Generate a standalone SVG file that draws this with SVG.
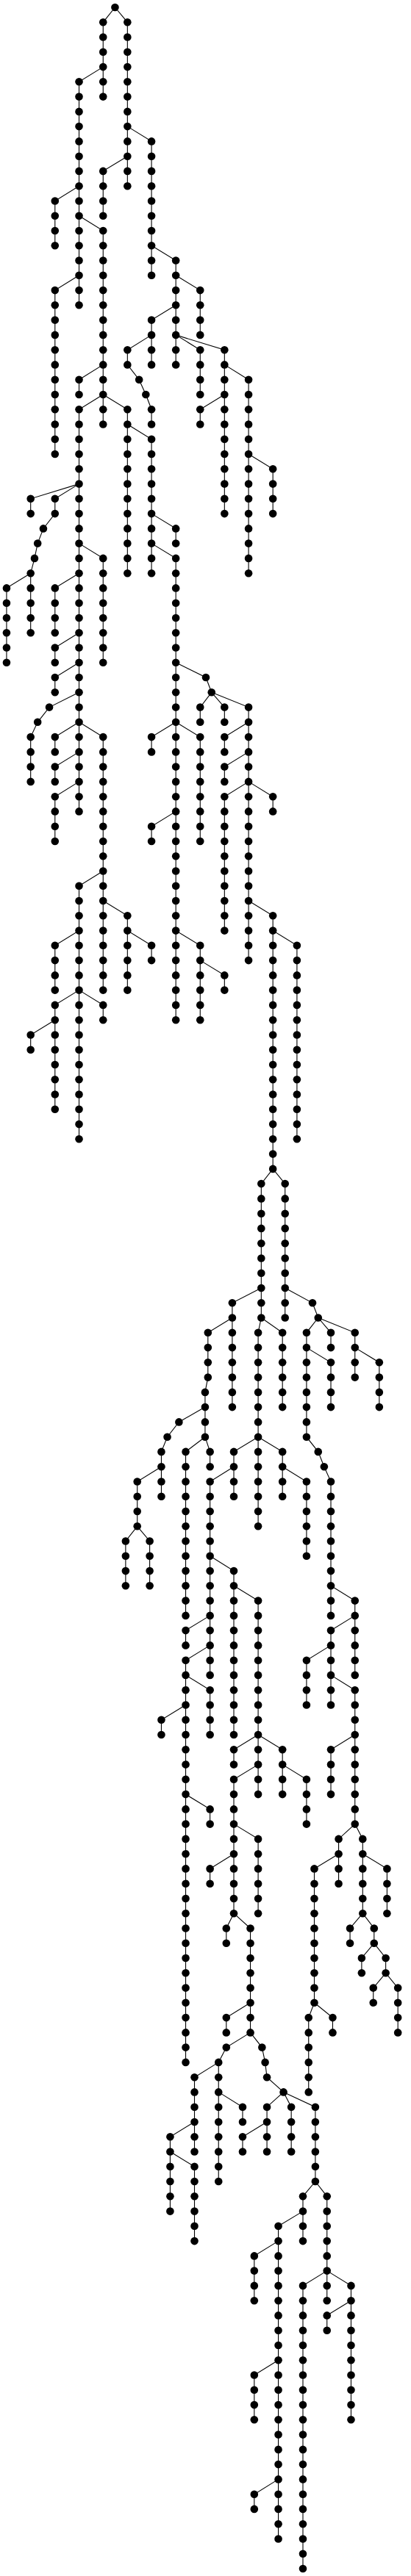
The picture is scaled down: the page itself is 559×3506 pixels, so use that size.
<svg xmlns="http://www.w3.org/2000/svg" width="559" height="3506" viewBox="0 0 559 3506">
<style>
.e path{fill:none;stroke:#000;stroke-width:1.1;vector-effect:non-scaling-stroke}
circle{r:5.3px;fill:#000;transform:scale(2.841,1)}
</style>
<rect width="559" height="3506" fill="#fff"/>
<g id="connectors" class="e" transform="translate(-0.9,0) scale(0.352,1)">
<path d="M447,10L401,30.3V131.6"/>
<path d="M447,10L495,30.3V253.2"/>
<path d="M401,91.1L308,111.3V415.3"/>
<path d="M308,253.2L215,273.5V334.3"/>
<path d="M495,212.7L401,232.9V293.7"/>
<path d="M495,172.1L588,192.4V374.8"/>
<path d="M308,293.7L401,314V577.5"/>
<path d="M308,374.8L215,395.1V618"/>
<path d="M401,496.4L308,516.7V537"/>
<path d="M401,537L308,557.2V1104.4"/>
<path d="M401,537L495,557.2V780.2"/>
<path d="M308,658.6L121,678.8V699.1"/>
<path d="M308,658.6L215,678.8V699.1L170,719.4L148,739.6L136,759.9L121,780.2V861.2"/>
<path d="M121,780.2L28,800.4V901.8"/>
<path d="M308,780.2L215,800.4V861.2"/>
<path d="M308,739.6L401,759.9V901.8"/>
<path d="M308,861.2L215,881.5V901.8"/>
<path d="M308,901.8L215,922V942.3"/>
<path d="M308,942.3L193,962.6L148,982.8L121,1003.1V1063.9"/>
<path d="M308,982.8L215,1003.1V1023.4"/>
<path d="M308,982.8L401,1003.1V1347.6"/>
<path d="M308,1023.4L215,1043.6V1063.9"/>
<path d="M308,1063.9L215,1084.2V1145"/>
<path d="M401,1185.5L308,1205.8V1550.3"/>
<path d="M308,1266.6L215,1286.8V1347.6"/>
<path d="M308,1347.6L215,1367.9V1509.8"/>
<path d="M215,1388.2L121,1408.5V1428.7"/>
<path d="M308,1347.6L401,1367.9V1388.2"/>
<path d="M401,1226L495,1246.3V1347.6"/>
<path d="M495,1266.6L588,1286.8V1307.1"/>
<path d="M588,334.3L682,354.5V496.4"/>
<path d="M682,374.8L776,395.1V455.9"/>
<path d="M682,415.3L588,435.6V496.4"/>
<path d="M588,455.9L495,476.2V496.4L540,516.7L566,537L588,557.2V577.5"/>
<path d="M682,455.9L776,476.2V537"/>
<path d="M682,455.9L870,476.2V699.1"/>
<path d="M870,537L776,557.2V577.5"/>
<path d="M870,496.4L963,516.7V780.2"/>
<path d="M963,618L1057,638.3V699.1"/>
<path d="M495,577.5L588,597.8V780.2"/>
<path d="M588,699.1L682,719.4V739.6"/>
<path d="M588,739.6L682,759.9V1388.2"/>
<path d="M682,901.8L798,922L820,942.3"/>
<path d="M820,942.3L776,962.6V982.8"/>
<path d="M820,942.3L870,962.6V982.8"/>
<path d="M820,942.3L963,962.6V1307.1"/>
<path d="M963,982.8L870,1003.1V1023.4"/>
<path d="M963,1023.4L870,1043.6V1063.9"/>
<path d="M963,1063.9L870,1084.2V1266.6"/>
<path d="M963,1063.9L1057,1084.2V1104.4"/>
<path d="M682,982.8L588,1003.1V1023.4"/>
<path d="M682,982.8L776,1003.1V1145"/>
<path d="M682,1104.4L588,1124.7V1145"/>
<path d="M682,1266.6L776,1286.8V1388.2"/>
<path d="M776,1307.1L870,1327.4V1347.6"/>
<path d="M963,1226L1057,1246.3V1590.9"/>
<path d="M1057,1266.6L1150,1286.8V1550.3"/>
<path d="M1057,1590.9L1012,1611.1V1793.5"/>
<path d="M1057,1590.9L1104,1611.1V1793.5"/>
<path d="M1012,1753L900,1773.3V1915.1"/>
<path d="M900,1793.5L806,1813.8V1874.6L795,1894.9V1955.7"/>
<path d="M795,1915.1L694,1935.4L649,1955.7L626,1975.9V2036.7"/>
<path d="M626,1996.2L533,2016.5V2077.3"/>
<path d="M533,2077.3L488,2097.5V2158.3"/>
<path d="M533,2077.3L581,2097.5V2158.3"/>
<path d="M795,1955.7L720,1975.9V2198.9"/>
<path d="M795,1955.7L814,1975.9V1996.2"/>
<path d="M1012,1793.5L1000,1813.8V2077.3"/>
<path d="M1012,1793.5L1094,1813.8V1915.1"/>
<path d="M1000,1955.7L906,1975.9V2036.7"/>
<path d="M906,1996.2L814,2016.5V2279.9"/>
<path d="M1000,1955.7L1094,1975.9V2036.7"/>
<path d="M1094,1996.2L1187,2016.5V2117.8"/>
<path d="M1104,1753L1210,1773.3L1232,1793.5"/>
<path d="M1232,1793.5L1187,1813.8V1955.7L1232,1975.9L1255,1996.2L1281,2016.5V2198.9"/>
<path d="M1232,1793.5L1281,1813.8V1834.1"/>
<path d="M1232,1793.5L1374,1813.8V1874.6"/>
<path d="M1374,1834.1L1468,1854.3V1915.1"/>
<path d="M1187,1834.1L1281,1854.3V1915.1"/>
<path d="M814,2117.8L906,2138.1V2361"/>
<path d="M906,2158.3L1000,2178.6V2442.1"/>
<path d="M814,2198.9L720,2219.1V2239.4"/>
<path d="M814,2239.4L720,2259.7V2806.9"/>
<path d="M720,2279.9L814,2300.2V2361"/>
<path d="M720,2320.5L626,2340.8V2361"/>
<path d="M720,2442.1L814,2462.4V2482.6"/>
<path d="M1000,2361L906,2381.3V2401.6"/>
<path d="M1000,2361L1094,2381.3V2442.1"/>
<path d="M1094,2401.6L1187,2421.8V2482.6"/>
<path d="M1000,2401.6L906,2421.8V2604.2"/>
<path d="M906,2482.6L1000,2502.9V2604.2"/>
<path d="M906,2523.2L814,2543.4V2563.7"/>
<path d="M906,2604.2L877,2624.5V2644.8"/>
<path d="M906,2604.2L970,2624.5V2766.4"/>
<path d="M970,2725.8L877,2746.1V2766.4"/>
<path d="M970,2766.4L877,2786.6L847,2806.9V2969"/>
<path d="M847,2806.9L754,2827.2V2928.5"/>
<path d="M847,2847.4L940,2867.7V2888"/>
<path d="M754,2888L660,2908.2V3009.6"/>
<path d="M660,2928.5L754,2948.8V3050.1"/>
<path d="M970,2766.4L1015,2786.6L1027,2806.9L1034,2827.2L1098,2847.4"/>
<path d="M1098,2847.4L1034,2867.7V2928.5"/>
<path d="M1034,2888L940,2908.2V2928.5"/>
<path d="M1098,2847.4L1128,2867.7V2928.5"/>
<path d="M1098,2847.4L1221,2867.7V2969"/>
<path d="M1221,2969L1173,2989.3V3050.1"/>
<path d="M1173,3009.6L1078,3029.8V3455.5"/>
<path d="M1078,3050.1L985,3070.4V3131.2"/>
<path d="M1078,3212.2L985,3232.5V3293.3"/>
<path d="M1078,3374.4L985,3394.7V3414.9"/>
<path d="M1221,2969L1266,2989.3V3131.2"/>
<path d="M1266,3090.6L1173,3110.9V3496"/>
<path d="M1266,3090.6L1359,3110.9V3293.3"/>
<path d="M1359,3131.2L1266,3151.4V3171.7"/>
<path d="M1281,2158.3L1374,2178.6V2279.9"/>
<path d="M1374,2198.9L1281,2219.1V2320.5"/>
<path d="M1281,2239.4L1187,2259.7V2320.5"/>
<path d="M1281,2279.9L1374,2300.2V2482.6"/>
<path d="M1374,2361L1281,2381.3V2442.1"/>
<path d="M1374,2482.6L1311,2502.9V2563.7"/>
<path d="M1311,2523.2L1217,2543.4V2725.8"/>
<path d="M1217,2725.8L1195,2746.1V2847.4"/>
<path d="M1217,2725.8L1288,2746.1V2766.4"/>
<path d="M1374,2482.6L1404,2502.9V2604.2"/>
<path d="M1404,2523.2L1498,2543.4V2604.2"/>
<path d="M1404,2604.2L1355,2624.5V2644.8"/>
<path d="M1404,2604.2L1448,2624.5V2644.8"/>
<path d="M1448,2644.8L1400,2665V2685.3"/>
<path d="M1448,2644.8L1493,2665V2685.3"/>
<path d="M1493,2685.3L1445,2705.6V2725.8"/>
<path d="M1493,2685.3L1540,2705.6V2766.4"/>
</g>
<g id="nodes" transform="translate(-0.9,0) scale(0.352,1)">
<g transform="translate(447,0)"><g id="n447_0"><circle cy="10"/></g></g>
<g transform="translate(401,0)">
<g id="n401_1"><circle cy="30.3"/></g><g id="n401_2"><circle cy="50.5"/></g><g id="n401_3"><circle cy="70.8"/></g><g id="n401_4"><circle cy="91.1"/></g><g id="n401_5"><circle cy="111.3"/></g><g id="n401_6"><circle cy="131.6"/></g>
<g id="n401_11"><circle cy="232.9"/></g><g id="n401_12"><circle cy="253.2"/></g><g id="n401_13"><circle cy="273.5"/></g><g id="n401_14"><circle cy="293.7"/></g><g id="n401_15"><circle cy="314"/></g><g id="n401_16"><circle cy="334.3"/></g><g id="n401_17"><circle cy="354.5"/></g><g id="n401_18"><circle cy="374.8"/></g><g id="n401_19"><circle cy="395.1"/></g><g id="n401_20"><circle cy="415.3"/></g><g id="n401_21"><circle cy="435.6"/></g><g id="n401_22"><circle cy="455.9"/></g><g id="n401_23"><circle cy="476.2"/></g><g id="n401_24"><circle cy="496.4"/></g><g id="n401_25"><circle cy="516.7"/></g><g id="n401_26"><circle cy="537"/></g><g id="n401_27"><circle cy="557.2"/></g><g id="n401_28"><circle cy="577.5"/></g>
<g id="n401_37"><circle cy="759.9"/></g><g id="n401_38"><circle cy="780.2"/></g><g id="n401_39"><circle cy="800.4"/></g><g id="n401_40"><circle cy="820.7"/></g><g id="n401_41"><circle cy="841"/></g><g id="n401_42"><circle cy="861.2"/></g><g id="n401_43"><circle cy="881.5"/></g><g id="n401_44"><circle cy="901.8"/></g>
<g id="n401_49"><circle cy="1003.1"/></g><g id="n401_50"><circle cy="1023.4"/></g><g id="n401_51"><circle cy="1043.6"/></g><g id="n401_52"><circle cy="1063.9"/></g><g id="n401_53"><circle cy="1084.2"/></g><g id="n401_54"><circle cy="1104.4"/></g><g id="n401_55"><circle cy="1124.7"/></g><g id="n401_56"><circle cy="1145"/></g><g id="n401_57"><circle cy="1165.2"/></g><g id="n401_58"><circle cy="1185.5"/></g><g id="n401_59"><circle cy="1205.8"/></g><g id="n401_60"><circle cy="1226"/></g><g id="n401_61"><circle cy="1246.3"/></g><g id="n401_62"><circle cy="1266.6"/></g><g id="n401_63"><circle cy="1286.8"/></g><g id="n401_64"><circle cy="1307.1"/></g><g id="n401_65"><circle cy="1327.4"/></g><g id="n401_66"><circle cy="1347.6"/></g><g id="n401_67"><circle cy="1367.9"/></g><g id="n401_68"><circle cy="1388.2"/></g>
</g>
<g transform="translate(495,0)">
<g id="n495_1"><circle cy="30.3"/></g><g id="n495_2"><circle cy="50.5"/></g><g id="n495_3"><circle cy="70.8"/></g><g id="n495_4"><circle cy="91.1"/></g><g id="n495_5"><circle cy="111.3"/></g><g id="n495_6"><circle cy="131.6"/></g><g id="n495_7"><circle cy="151.9"/></g><g id="n495_8"><circle cy="172.1"/></g><g id="n495_9"><circle cy="192.4"/></g><g id="n495_10"><circle cy="212.7"/></g><g id="n495_11"><circle cy="232.9"/></g><g id="n495_12"><circle cy="253.2"/></g>
<g id="n495_23"><circle cy="476.2"/></g><g id="n495_24"><circle cy="496.4"/></g>
<g id="n495_27"><circle cy="557.2"/></g><g id="n495_28"><circle cy="577.5"/></g><g id="n495_29"><circle cy="597.8"/></g><g id="n495_30"><circle cy="618"/></g><g id="n495_31"><circle cy="638.3"/></g><g id="n495_32"><circle cy="658.6"/></g><g id="n495_33"><circle cy="678.8"/></g><g id="n495_34"><circle cy="699.1"/></g><g id="n495_35"><circle cy="719.4"/></g><g id="n495_36"><circle cy="739.6"/></g><g id="n495_37"><circle cy="759.9"/></g><g id="n495_38"><circle cy="780.2"/></g>
<g id="n495_61"><circle cy="1246.3"/></g><g id="n495_62"><circle cy="1266.6"/></g><g id="n495_63"><circle cy="1286.8"/></g><g id="n495_64"><circle cy="1307.1"/></g><g id="n495_65"><circle cy="1327.4"/></g><g id="n495_66"><circle cy="1347.6"/></g>
</g>
<g transform="translate(308,0)">
<g id="n308_5"><circle cy="111.3"/></g><g id="n308_6"><circle cy="131.6"/></g><g id="n308_7"><circle cy="151.9"/></g><g id="n308_8"><circle cy="172.1"/></g><g id="n308_9"><circle cy="192.4"/></g><g id="n308_10"><circle cy="212.7"/></g><g id="n308_11"><circle cy="232.9"/></g><g id="n308_12"><circle cy="253.2"/></g><g id="n308_13"><circle cy="273.5"/></g><g id="n308_14"><circle cy="293.7"/></g><g id="n308_15"><circle cy="314"/></g><g id="n308_16"><circle cy="334.3"/></g><g id="n308_17"><circle cy="354.5"/></g><g id="n308_18"><circle cy="374.8"/></g><g id="n308_19"><circle cy="395.1"/></g><g id="n308_20"><circle cy="415.3"/></g>
<g id="n308_25"><circle cy="516.7"/></g><g id="n308_26"><circle cy="537"/></g><g id="n308_27"><circle cy="557.2"/></g><g id="n308_28"><circle cy="577.5"/></g><g id="n308_29"><circle cy="597.8"/></g><g id="n308_30"><circle cy="618"/></g><g id="n308_31"><circle cy="638.3"/></g><g id="n308_32"><circle cy="658.6"/></g><g id="n308_33"><circle cy="678.8"/></g><g id="n308_34"><circle cy="699.1"/></g><g id="n308_35"><circle cy="719.4"/></g><g id="n308_36"><circle cy="739.6"/></g><g id="n308_37"><circle cy="759.9"/></g><g id="n308_38"><circle cy="780.2"/></g><g id="n308_39"><circle cy="800.4"/></g><g id="n308_40"><circle cy="820.7"/></g><g id="n308_41"><circle cy="841"/></g><g id="n308_42"><circle cy="861.2"/></g><g id="n308_43"><circle cy="881.5"/></g><g id="n308_44"><circle cy="901.8"/></g><g id="n308_45"><circle cy="922"/></g><g id="n308_46"><circle cy="942.3"/></g><g id="n308_47"><circle cy="962.6"/></g><g id="n308_48"><circle cy="982.8"/></g><g id="n308_49"><circle cy="1003.1"/></g><g id="n308_50"><circle cy="1023.4"/></g><g id="n308_51"><circle cy="1043.6"/></g><g id="n308_52"><circle cy="1063.9"/></g><g id="n308_53"><circle cy="1084.2"/></g><g id="n308_54"><circle cy="1104.4"/></g>
<g id="n308_59"><circle cy="1205.8"/></g><g id="n308_60"><circle cy="1226"/></g><g id="n308_61"><circle cy="1246.3"/></g><g id="n308_62"><circle cy="1266.6"/></g><g id="n308_63"><circle cy="1286.8"/></g><g id="n308_64"><circle cy="1307.1"/></g><g id="n308_65"><circle cy="1327.4"/></g><g id="n308_66"><circle cy="1347.6"/></g><g id="n308_67"><circle cy="1367.9"/></g><g id="n308_68"><circle cy="1388.2"/></g><g id="n308_69"><circle cy="1408.5"/></g><g id="n308_70"><circle cy="1428.7"/></g><g id="n308_71"><circle cy="1449"/></g><g id="n308_72"><circle cy="1469.3"/></g><g id="n308_73"><circle cy="1489.5"/></g><g id="n308_74"><circle cy="1509.8"/></g><g id="n308_75"><circle cy="1530.1"/></g><g id="n308_76"><circle cy="1550.3"/></g>
</g>
<g transform="translate(215,0)">
<g id="n215_13"><circle cy="273.5"/></g><g id="n215_14"><circle cy="293.7"/></g><g id="n215_15"><circle cy="314"/></g><g id="n215_16"><circle cy="334.3"/></g>
<g id="n215_19"><circle cy="395.1"/></g><g id="n215_20"><circle cy="415.3"/></g><g id="n215_21"><circle cy="435.6"/></g><g id="n215_22"><circle cy="455.9"/></g><g id="n215_23"><circle cy="476.2"/></g><g id="n215_24"><circle cy="496.4"/></g><g id="n215_25"><circle cy="516.7"/></g><g id="n215_26"><circle cy="537"/></g><g id="n215_27"><circle cy="557.2"/></g><g id="n215_28"><circle cy="577.5"/></g><g id="n215_29"><circle cy="597.8"/></g><g id="n215_30"><circle cy="618"/></g>
<g id="n215_33"><circle cy="678.8"/></g><g id="n215_34"><circle cy="699.1"/></g>
<g id="n215_39"><circle cy="800.4"/></g><g id="n215_40"><circle cy="820.7"/></g><g id="n215_41"><circle cy="841"/></g><g id="n215_42"><circle cy="861.2"/></g><g id="n215_43"><circle cy="881.5"/></g><g id="n215_44"><circle cy="901.8"/></g><g id="n215_45"><circle cy="922"/></g><g id="n215_46"><circle cy="942.3"/></g>
<g id="n215_49"><circle cy="1003.1"/></g><g id="n215_50"><circle cy="1023.4"/></g><g id="n215_51"><circle cy="1043.6"/></g><g id="n215_52"><circle cy="1063.9"/></g><g id="n215_53"><circle cy="1084.2"/></g><g id="n215_54"><circle cy="1104.4"/></g><g id="n215_55"><circle cy="1124.7"/></g><g id="n215_56"><circle cy="1145"/></g>
<g id="n215_63"><circle cy="1286.8"/></g><g id="n215_64"><circle cy="1307.1"/></g><g id="n215_65"><circle cy="1327.4"/></g><g id="n215_66"><circle cy="1347.6"/></g><g id="n215_67"><circle cy="1367.9"/></g><g id="n215_68"><circle cy="1388.2"/></g><g id="n215_69"><circle cy="1408.5"/></g><g id="n215_70"><circle cy="1428.7"/></g><g id="n215_71"><circle cy="1449"/></g><g id="n215_72"><circle cy="1469.3"/></g><g id="n215_73"><circle cy="1489.5"/></g><g id="n215_74"><circle cy="1509.8"/></g>
</g>
<g transform="translate(121,0)">
<g id="n121_33"><circle cy="678.8"/></g><g id="n121_34"><circle cy="699.1"/></g>
<g id="n121_38"><circle cy="780.2"/></g><g id="n121_39"><circle cy="800.4"/></g><g id="n121_40"><circle cy="820.7"/></g><g id="n121_41"><circle cy="841"/></g><g id="n121_42"><circle cy="861.2"/></g>
<g id="n121_49"><circle cy="1003.1"/></g><g id="n121_50"><circle cy="1023.4"/></g><g id="n121_51"><circle cy="1043.6"/></g><g id="n121_52"><circle cy="1063.9"/></g>
<g id="n121_69"><circle cy="1408.5"/></g><g id="n121_70"><circle cy="1428.7"/></g>
</g>
<g transform="translate(28,0)">
<g id="n28_39"><circle cy="800.4"/></g><g id="n28_40"><circle cy="820.7"/></g><g id="n28_41"><circle cy="841"/></g><g id="n28_42"><circle cy="861.2"/></g><g id="n28_43"><circle cy="881.5"/></g><g id="n28_44"><circle cy="901.8"/></g>
</g>
<g transform="translate(170,0)"><g id="n170_35"><circle cy="719.4"/></g></g>
<g transform="translate(148,0)"><g id="n148_36"><circle cy="739.6"/></g><g id="n148_48"><circle cy="982.8"/></g></g>
<g transform="translate(136,0)"><g id="n136_37"><circle cy="759.9"/></g></g>
<g transform="translate(193,0)"><g id="n193_47"><circle cy="962.6"/></g></g>
<g transform="translate(588,0)">
<g id="n588_9"><circle cy="192.4"/></g><g id="n588_10"><circle cy="212.7"/></g><g id="n588_11"><circle cy="232.9"/></g><g id="n588_12"><circle cy="253.2"/></g><g id="n588_13"><circle cy="273.5"/></g><g id="n588_14"><circle cy="293.7"/></g><g id="n588_15"><circle cy="314"/></g><g id="n588_16"><circle cy="334.3"/></g><g id="n588_17"><circle cy="354.5"/></g><g id="n588_18"><circle cy="374.8"/></g>
<g id="n588_21"><circle cy="435.6"/></g><g id="n588_22"><circle cy="455.9"/></g><g id="n588_23"><circle cy="476.2"/></g><g id="n588_24"><circle cy="496.4"/></g>
<g id="n588_27"><circle cy="557.2"/></g><g id="n588_28"><circle cy="577.5"/></g><g id="n588_29"><circle cy="597.8"/></g><g id="n588_30"><circle cy="618"/></g><g id="n588_31"><circle cy="638.3"/></g><g id="n588_32"><circle cy="658.6"/></g><g id="n588_33"><circle cy="678.8"/></g><g id="n588_34"><circle cy="699.1"/></g><g id="n588_35"><circle cy="719.4"/></g><g id="n588_36"><circle cy="739.6"/></g><g id="n588_37"><circle cy="759.9"/></g><g id="n588_38"><circle cy="780.2"/></g>
<g id="n588_49"><circle cy="1003.1"/></g><g id="n588_50"><circle cy="1023.4"/></g><g id="n588_55"><circle cy="1124.7"/></g><g id="n588_56"><circle cy="1145"/></g><g id="n588_63"><circle cy="1286.8"/></g><g id="n588_64"><circle cy="1307.1"/></g>
</g>
<g transform="translate(540,0)"><g id="n540_25"><circle cy="516.7"/></g></g>
<g transform="translate(566,0)"><g id="n566_26"><circle cy="537"/></g></g>
<g transform="translate(682,0)">
<g id="n682_17"><circle cy="354.5"/></g><g id="n682_18"><circle cy="374.8"/></g><g id="n682_19"><circle cy="395.1"/></g><g id="n682_20"><circle cy="415.3"/></g><g id="n682_21"><circle cy="435.6"/></g><g id="n682_22"><circle cy="455.9"/></g><g id="n682_23"><circle cy="476.2"/></g><g id="n682_24"><circle cy="496.4"/></g>
<g id="n682_35"><circle cy="719.4"/></g><g id="n682_36"><circle cy="739.6"/></g><g id="n682_37"><circle cy="759.9"/></g><g id="n682_38"><circle cy="780.2"/></g><g id="n682_39"><circle cy="800.4"/></g><g id="n682_40"><circle cy="820.7"/></g><g id="n682_41"><circle cy="841"/></g><g id="n682_42"><circle cy="861.2"/></g><g id="n682_43"><circle cy="881.5"/></g><g id="n682_44"><circle cy="901.8"/></g><g id="n682_45"><circle cy="922"/></g><g id="n682_46"><circle cy="942.3"/></g><g id="n682_47"><circle cy="962.6"/></g><g id="n682_48"><circle cy="982.8"/></g><g id="n682_49"><circle cy="1003.1"/></g><g id="n682_50"><circle cy="1023.4"/></g><g id="n682_51"><circle cy="1043.6"/></g><g id="n682_52"><circle cy="1063.9"/></g><g id="n682_53"><circle cy="1084.2"/></g><g id="n682_54"><circle cy="1104.4"/></g><g id="n682_55"><circle cy="1124.7"/></g><g id="n682_56"><circle cy="1145"/></g><g id="n682_57"><circle cy="1165.2"/></g><g id="n682_58"><circle cy="1185.5"/></g><g id="n682_59"><circle cy="1205.8"/></g><g id="n682_60"><circle cy="1226"/></g><g id="n682_61"><circle cy="1246.3"/></g><g id="n682_62"><circle cy="1266.6"/></g><g id="n682_63"><circle cy="1286.8"/></g><g id="n682_64"><circle cy="1307.1"/></g><g id="n682_65"><circle cy="1327.4"/></g><g id="n682_66"><circle cy="1347.6"/></g><g id="n682_67"><circle cy="1367.9"/></g><g id="n682_68"><circle cy="1388.2"/></g>
</g>
<g transform="translate(776,0)">
<g id="n776_19"><circle cy="395.1"/></g><g id="n776_20"><circle cy="415.3"/></g><g id="n776_21"><circle cy="435.6"/></g><g id="n776_22"><circle cy="455.9"/></g><g id="n776_23"><circle cy="476.2"/></g><g id="n776_24"><circle cy="496.4"/></g><g id="n776_25"><circle cy="516.7"/></g><g id="n776_26"><circle cy="537"/></g><g id="n776_27"><circle cy="557.2"/></g><g id="n776_28"><circle cy="577.5"/></g>
<g id="n776_47"><circle cy="962.6"/></g><g id="n776_48"><circle cy="982.8"/></g><g id="n776_49"><circle cy="1003.1"/></g><g id="n776_50"><circle cy="1023.4"/></g><g id="n776_51"><circle cy="1043.6"/></g><g id="n776_52"><circle cy="1063.9"/></g><g id="n776_53"><circle cy="1084.2"/></g><g id="n776_54"><circle cy="1104.4"/></g><g id="n776_55"><circle cy="1124.7"/></g><g id="n776_56"><circle cy="1145"/></g>
<g id="n776_63"><circle cy="1286.8"/></g><g id="n776_64"><circle cy="1307.1"/></g><g id="n776_65"><circle cy="1327.4"/></g><g id="n776_66"><circle cy="1347.6"/></g><g id="n776_67"><circle cy="1367.9"/></g><g id="n776_68"><circle cy="1388.2"/></g>
</g>
<g transform="translate(870,0)">
<g id="n870_23"><circle cy="476.2"/></g><g id="n870_24"><circle cy="496.4"/></g><g id="n870_25"><circle cy="516.7"/></g><g id="n870_26"><circle cy="537"/></g><g id="n870_27"><circle cy="557.2"/></g><g id="n870_28"><circle cy="577.5"/></g><g id="n870_29"><circle cy="597.8"/></g><g id="n870_30"><circle cy="618"/></g><g id="n870_31"><circle cy="638.3"/></g><g id="n870_32"><circle cy="658.6"/></g><g id="n870_33"><circle cy="678.8"/></g><g id="n870_34"><circle cy="699.1"/></g>
<g id="n870_47"><circle cy="962.6"/></g><g id="n870_48"><circle cy="982.8"/></g><g id="n870_49"><circle cy="1003.1"/></g><g id="n870_50"><circle cy="1023.4"/></g><g id="n870_51"><circle cy="1043.6"/></g><g id="n870_52"><circle cy="1063.9"/></g><g id="n870_53"><circle cy="1084.2"/></g><g id="n870_54"><circle cy="1104.4"/></g><g id="n870_55"><circle cy="1124.7"/></g><g id="n870_56"><circle cy="1145"/></g><g id="n870_57"><circle cy="1165.2"/></g><g id="n870_58"><circle cy="1185.5"/></g><g id="n870_59"><circle cy="1205.8"/></g><g id="n870_60"><circle cy="1226"/></g><g id="n870_61"><circle cy="1246.3"/></g><g id="n870_62"><circle cy="1266.6"/></g>
<g id="n870_65"><circle cy="1327.4"/></g><g id="n870_66"><circle cy="1347.6"/></g>
</g>
<g transform="translate(963,0)">
<g id="n963_25"><circle cy="516.7"/></g><g id="n963_26"><circle cy="537"/></g><g id="n963_27"><circle cy="557.2"/></g><g id="n963_28"><circle cy="577.5"/></g><g id="n963_29"><circle cy="597.8"/></g><g id="n963_30"><circle cy="618"/></g><g id="n963_31"><circle cy="638.3"/></g><g id="n963_32"><circle cy="658.6"/></g><g id="n963_33"><circle cy="678.8"/></g><g id="n963_34"><circle cy="699.1"/></g><g id="n963_35"><circle cy="719.4"/></g><g id="n963_36"><circle cy="739.6"/></g><g id="n963_37"><circle cy="759.9"/></g><g id="n963_38"><circle cy="780.2"/></g>
<g id="n963_47"><circle cy="962.6"/></g><g id="n963_48"><circle cy="982.8"/></g><g id="n963_49"><circle cy="1003.1"/></g><g id="n963_50"><circle cy="1023.4"/></g><g id="n963_51"><circle cy="1043.6"/></g><g id="n963_52"><circle cy="1063.9"/></g><g id="n963_53"><circle cy="1084.2"/></g><g id="n963_54"><circle cy="1104.4"/></g><g id="n963_55"><circle cy="1124.7"/></g><g id="n963_56"><circle cy="1145"/></g><g id="n963_57"><circle cy="1165.2"/></g><g id="n963_58"><circle cy="1185.5"/></g><g id="n963_59"><circle cy="1205.8"/></g><g id="n963_60"><circle cy="1226"/></g><g id="n963_61"><circle cy="1246.3"/></g><g id="n963_62"><circle cy="1266.6"/></g><g id="n963_63"><circle cy="1286.8"/></g><g id="n963_64"><circle cy="1307.1"/></g>
</g>
<g transform="translate(1057,0)">
<g id="n1057_31"><circle cy="638.3"/></g><g id="n1057_32"><circle cy="658.6"/></g><g id="n1057_33"><circle cy="678.8"/></g><g id="n1057_34"><circle cy="699.1"/></g>
<g id="n1057_53"><circle cy="1084.2"/></g><g id="n1057_54"><circle cy="1104.4"/></g>
<g id="n1057_61"><circle cy="1246.3"/></g><g id="n1057_62"><circle cy="1266.6"/></g><g id="n1057_63"><circle cy="1286.8"/></g><g id="n1057_64"><circle cy="1307.1"/></g><g id="n1057_65"><circle cy="1327.4"/></g><g id="n1057_66"><circle cy="1347.6"/></g><g id="n1057_67"><circle cy="1367.9"/></g><g id="n1057_68"><circle cy="1388.2"/></g><g id="n1057_69"><circle cy="1408.5"/></g><g id="n1057_70"><circle cy="1428.7"/></g><g id="n1057_71"><circle cy="1449"/></g><g id="n1057_72"><circle cy="1469.3"/></g><g id="n1057_73"><circle cy="1489.5"/></g><g id="n1057_74"><circle cy="1509.8"/></g><g id="n1057_75"><circle cy="1530.1"/></g><g id="n1057_76"><circle cy="1550.3"/></g><g id="n1057_77"><circle cy="1570.6"/></g><g id="n1057_78"><circle cy="1590.9"/></g>
</g>
<g transform="translate(1150,0)">
<g id="n1150_63"><circle cy="1286.8"/></g><g id="n1150_64"><circle cy="1307.1"/></g><g id="n1150_65"><circle cy="1327.4"/></g><g id="n1150_66"><circle cy="1347.6"/></g><g id="n1150_67"><circle cy="1367.9"/></g><g id="n1150_68"><circle cy="1388.2"/></g><g id="n1150_69"><circle cy="1408.5"/></g><g id="n1150_70"><circle cy="1428.7"/></g><g id="n1150_71"><circle cy="1449"/></g><g id="n1150_72"><circle cy="1469.3"/></g><g id="n1150_73"><circle cy="1489.5"/></g><g id="n1150_74"><circle cy="1509.8"/></g><g id="n1150_75"><circle cy="1530.1"/></g><g id="n1150_76"><circle cy="1550.3"/></g>
</g>
<g transform="translate(798,0)"><g id="n798_45"><circle cy="922"/></g></g>
<g transform="translate(820,0)"><g id="n820_46"><circle cy="942.3"/></g></g>
<g transform="translate(1012,0)">
<g id="n1012_79"><circle cy="1611.1"/></g><g id="n1012_80"><circle cy="1631.4"/></g><g id="n1012_81"><circle cy="1651.7"/></g><g id="n1012_82"><circle cy="1671.9"/></g><g id="n1012_83"><circle cy="1692.2"/></g><g id="n1012_84"><circle cy="1712.5"/></g><g id="n1012_85"><circle cy="1732.7"/></g><g id="n1012_86"><circle cy="1753"/></g><g id="n1012_87"><circle cy="1773.3"/></g><g id="n1012_88"><circle cy="1793.5"/></g>
</g>
<g transform="translate(1104,0)">
<g id="n1104_79"><circle cy="1611.1"/></g><g id="n1104_80"><circle cy="1631.4"/></g><g id="n1104_81"><circle cy="1651.7"/></g><g id="n1104_82"><circle cy="1671.9"/></g><g id="n1104_83"><circle cy="1692.2"/></g><g id="n1104_84"><circle cy="1712.5"/></g><g id="n1104_85"><circle cy="1732.7"/></g><g id="n1104_86"><circle cy="1753"/></g><g id="n1104_87"><circle cy="1773.3"/></g><g id="n1104_88"><circle cy="1793.5"/></g>
</g>
<g transform="translate(900,0)">
<g id="n900_87"><circle cy="1773.3"/></g><g id="n900_88"><circle cy="1793.5"/></g><g id="n900_89"><circle cy="1813.8"/></g><g id="n900_90"><circle cy="1834.1"/></g><g id="n900_91"><circle cy="1854.3"/></g><g id="n900_92"><circle cy="1874.6"/></g><g id="n900_93"><circle cy="1894.9"/></g><g id="n900_94"><circle cy="1915.1"/></g>
</g>
<g transform="translate(806,0)">
<g id="n806_89"><circle cy="1813.8"/></g><g id="n806_90"><circle cy="1834.1"/></g><g id="n806_91"><circle cy="1854.3"/></g><g id="n806_92"><circle cy="1874.6"/></g>
</g>
<g transform="translate(795,0)">
<g id="n795_93"><circle cy="1894.9"/></g><g id="n795_94"><circle cy="1915.1"/></g><g id="n795_95"><circle cy="1935.4"/></g><g id="n795_96"><circle cy="1955.7"/></g>
</g>
<g transform="translate(694,0)"><g id="n694_95"><circle cy="1935.4"/></g></g>
<g transform="translate(649,0)"><g id="n649_96"><circle cy="1955.7"/></g></g>
<g transform="translate(626,0)">
<g id="n626_97"><circle cy="1975.9"/></g><g id="n626_98"><circle cy="1996.2"/></g><g id="n626_99"><circle cy="2016.5"/></g><g id="n626_100"><circle cy="2036.7"/></g>
<g id="n626_115"><circle cy="2340.8"/></g><g id="n626_116"><circle cy="2361"/></g>
</g>
<g transform="translate(533,0)">
<g id="n533_99"><circle cy="2016.5"/></g><g id="n533_100"><circle cy="2036.7"/></g><g id="n533_101"><circle cy="2057"/></g><g id="n533_102"><circle cy="2077.3"/></g>
</g>
<g transform="translate(488,0)">
<g id="n488_103"><circle cy="2097.5"/></g><g id="n488_104"><circle cy="2117.8"/></g><g id="n488_105"><circle cy="2138.1"/></g><g id="n488_106"><circle cy="2158.3"/></g>
</g>
<g transform="translate(581,0)">
<g id="n581_103"><circle cy="2097.5"/></g><g id="n581_104"><circle cy="2117.8"/></g><g id="n581_105"><circle cy="2138.1"/></g><g id="n581_106"><circle cy="2158.3"/></g>
</g>
<g transform="translate(720,0)">
<g id="n720_97"><circle cy="1975.9"/></g><g id="n720_98"><circle cy="1996.2"/></g><g id="n720_99"><circle cy="2016.5"/></g><g id="n720_100"><circle cy="2036.7"/></g><g id="n720_101"><circle cy="2057"/></g><g id="n720_102"><circle cy="2077.3"/></g><g id="n720_103"><circle cy="2097.5"/></g><g id="n720_104"><circle cy="2117.8"/></g><g id="n720_105"><circle cy="2138.1"/></g><g id="n720_106"><circle cy="2158.3"/></g><g id="n720_107"><circle cy="2178.6"/></g><g id="n720_108"><circle cy="2198.9"/></g><g id="n720_109"><circle cy="2219.1"/></g><g id="n720_110"><circle cy="2239.4"/></g><g id="n720_111"><circle cy="2259.7"/></g><g id="n720_112"><circle cy="2279.9"/></g><g id="n720_113"><circle cy="2300.2"/></g><g id="n720_114"><circle cy="2320.5"/></g><g id="n720_115"><circle cy="2340.8"/></g><g id="n720_116"><circle cy="2361"/></g><g id="n720_117"><circle cy="2381.3"/></g><g id="n720_118"><circle cy="2401.6"/></g><g id="n720_119"><circle cy="2421.8"/></g><g id="n720_120"><circle cy="2442.1"/></g><g id="n720_121"><circle cy="2462.4"/></g><g id="n720_122"><circle cy="2482.6"/></g><g id="n720_123"><circle cy="2502.9"/></g><g id="n720_124"><circle cy="2523.2"/></g><g id="n720_125"><circle cy="2543.4"/></g><g id="n720_126"><circle cy="2563.7"/></g><g id="n720_127"><circle cy="2584"/></g><g id="n720_128"><circle cy="2604.2"/></g><g id="n720_129"><circle cy="2624.5"/></g><g id="n720_130"><circle cy="2644.8"/></g><g id="n720_131"><circle cy="2665"/></g><g id="n720_132"><circle cy="2685.3"/></g><g id="n720_133"><circle cy="2705.6"/></g><g id="n720_134"><circle cy="2725.8"/></g><g id="n720_135"><circle cy="2746.1"/></g><g id="n720_136"><circle cy="2766.4"/></g><g id="n720_137"><circle cy="2786.6"/></g><g id="n720_138"><circle cy="2806.9"/></g>
</g>
<g transform="translate(814,0)">
<g id="n814_97"><circle cy="1975.9"/></g><g id="n814_98"><circle cy="1996.2"/></g><g id="n814_99"><circle cy="2016.5"/></g><g id="n814_100"><circle cy="2036.7"/></g><g id="n814_101"><circle cy="2057"/></g><g id="n814_102"><circle cy="2077.3"/></g><g id="n814_103"><circle cy="2097.5"/></g><g id="n814_104"><circle cy="2117.8"/></g><g id="n814_105"><circle cy="2138.1"/></g><g id="n814_106"><circle cy="2158.3"/></g><g id="n814_107"><circle cy="2178.6"/></g><g id="n814_108"><circle cy="2198.9"/></g><g id="n814_109"><circle cy="2219.1"/></g><g id="n814_110"><circle cy="2239.4"/></g><g id="n814_111"><circle cy="2259.7"/></g><g id="n814_112"><circle cy="2279.9"/></g><g id="n814_113"><circle cy="2300.2"/></g><g id="n814_114"><circle cy="2320.5"/></g><g id="n814_115"><circle cy="2340.8"/></g><g id="n814_116"><circle cy="2361"/></g>
<g id="n814_121"><circle cy="2462.4"/></g><g id="n814_122"><circle cy="2482.6"/></g><g id="n814_125"><circle cy="2543.4"/></g><g id="n814_126"><circle cy="2563.7"/></g>
</g>
<g transform="translate(1000,0)">
<g id="n1000_89"><circle cy="1813.8"/></g><g id="n1000_90"><circle cy="1834.1"/></g><g id="n1000_91"><circle cy="1854.3"/></g><g id="n1000_92"><circle cy="1874.6"/></g><g id="n1000_93"><circle cy="1894.9"/></g><g id="n1000_94"><circle cy="1915.1"/></g><g id="n1000_95"><circle cy="1935.4"/></g><g id="n1000_96"><circle cy="1955.7"/></g><g id="n1000_97"><circle cy="1975.9"/></g><g id="n1000_98"><circle cy="1996.2"/></g><g id="n1000_99"><circle cy="2016.5"/></g><g id="n1000_100"><circle cy="2036.7"/></g><g id="n1000_101"><circle cy="2057"/></g><g id="n1000_102"><circle cy="2077.3"/></g>
<g id="n1000_107"><circle cy="2178.6"/></g><g id="n1000_108"><circle cy="2198.9"/></g><g id="n1000_109"><circle cy="2219.1"/></g><g id="n1000_110"><circle cy="2239.4"/></g><g id="n1000_111"><circle cy="2259.7"/></g><g id="n1000_112"><circle cy="2279.9"/></g><g id="n1000_113"><circle cy="2300.2"/></g><g id="n1000_114"><circle cy="2320.5"/></g><g id="n1000_115"><circle cy="2340.8"/></g><g id="n1000_116"><circle cy="2361"/></g><g id="n1000_117"><circle cy="2381.3"/></g><g id="n1000_118"><circle cy="2401.6"/></g><g id="n1000_119"><circle cy="2421.8"/></g><g id="n1000_120"><circle cy="2442.1"/></g>
<g id="n1000_123"><circle cy="2502.9"/></g><g id="n1000_124"><circle cy="2523.2"/></g><g id="n1000_125"><circle cy="2543.4"/></g><g id="n1000_126"><circle cy="2563.7"/></g><g id="n1000_127"><circle cy="2584"/></g><g id="n1000_128"><circle cy="2604.2"/></g>
</g>
<g transform="translate(1094,0)">
<g id="n1094_89"><circle cy="1813.8"/></g><g id="n1094_90"><circle cy="1834.1"/></g><g id="n1094_91"><circle cy="1854.3"/></g><g id="n1094_92"><circle cy="1874.6"/></g><g id="n1094_93"><circle cy="1894.9"/></g><g id="n1094_94"><circle cy="1915.1"/></g>
<g id="n1094_97"><circle cy="1975.9"/></g><g id="n1094_98"><circle cy="1996.2"/></g><g id="n1094_99"><circle cy="2016.5"/></g><g id="n1094_100"><circle cy="2036.7"/></g>
<g id="n1094_117"><circle cy="2381.3"/></g><g id="n1094_118"><circle cy="2401.6"/></g><g id="n1094_119"><circle cy="2421.8"/></g><g id="n1094_120"><circle cy="2442.1"/></g>
</g>
<g transform="translate(906,0)">
<g id="n906_97"><circle cy="1975.9"/></g><g id="n906_98"><circle cy="1996.2"/></g><g id="n906_99"><circle cy="2016.5"/></g><g id="n906_100"><circle cy="2036.7"/></g>
<g id="n906_105"><circle cy="2138.1"/></g><g id="n906_106"><circle cy="2158.3"/></g><g id="n906_107"><circle cy="2178.6"/></g><g id="n906_108"><circle cy="2198.9"/></g><g id="n906_109"><circle cy="2219.1"/></g><g id="n906_110"><circle cy="2239.4"/></g><g id="n906_111"><circle cy="2259.7"/></g><g id="n906_112"><circle cy="2279.9"/></g><g id="n906_113"><circle cy="2300.2"/></g><g id="n906_114"><circle cy="2320.5"/></g><g id="n906_115"><circle cy="2340.8"/></g><g id="n906_116"><circle cy="2361"/></g><g id="n906_117"><circle cy="2381.3"/></g><g id="n906_118"><circle cy="2401.6"/></g><g id="n906_119"><circle cy="2421.8"/></g><g id="n906_120"><circle cy="2442.1"/></g><g id="n906_121"><circle cy="2462.4"/></g><g id="n906_122"><circle cy="2482.6"/></g><g id="n906_123"><circle cy="2502.9"/></g><g id="n906_124"><circle cy="2523.2"/></g><g id="n906_125"><circle cy="2543.4"/></g><g id="n906_126"><circle cy="2563.7"/></g><g id="n906_127"><circle cy="2584"/></g><g id="n906_128"><circle cy="2604.2"/></g>
</g>
<g transform="translate(1187,0)">
<g id="n1187_89"><circle cy="1813.8"/></g><g id="n1187_90"><circle cy="1834.1"/></g><g id="n1187_91"><circle cy="1854.3"/></g><g id="n1187_92"><circle cy="1874.6"/></g><g id="n1187_93"><circle cy="1894.9"/></g><g id="n1187_94"><circle cy="1915.1"/></g><g id="n1187_95"><circle cy="1935.4"/></g><g id="n1187_96"><circle cy="1955.7"/></g>
<g id="n1187_99"><circle cy="2016.5"/></g><g id="n1187_100"><circle cy="2036.7"/></g><g id="n1187_101"><circle cy="2057"/></g><g id="n1187_102"><circle cy="2077.3"/></g><g id="n1187_103"><circle cy="2097.5"/></g><g id="n1187_104"><circle cy="2117.8"/></g>
<g id="n1187_111"><circle cy="2259.7"/></g><g id="n1187_112"><circle cy="2279.9"/></g><g id="n1187_113"><circle cy="2300.2"/></g><g id="n1187_114"><circle cy="2320.5"/></g>
<g id="n1187_119"><circle cy="2421.8"/></g><g id="n1187_120"><circle cy="2442.1"/></g><g id="n1187_121"><circle cy="2462.4"/></g><g id="n1187_122"><circle cy="2482.6"/></g>
</g>
<g transform="translate(1210,0)"><g id="n1210_87"><circle cy="1773.3"/></g></g>
<g transform="translate(1232,0)"><g id="n1232_88"><circle cy="1793.5"/></g><g id="n1232_97"><circle cy="1975.9"/></g></g>
<g transform="translate(1255,0)"><g id="n1255_98"><circle cy="1996.2"/></g></g>
<g transform="translate(1281,0)">
<g id="n1281_89"><circle cy="1813.8"/></g><g id="n1281_90"><circle cy="1834.1"/></g><g id="n1281_91"><circle cy="1854.3"/></g><g id="n1281_92"><circle cy="1874.6"/></g><g id="n1281_93"><circle cy="1894.9"/></g><g id="n1281_94"><circle cy="1915.1"/></g>
<g id="n1281_99"><circle cy="2016.5"/></g><g id="n1281_100"><circle cy="2036.7"/></g><g id="n1281_101"><circle cy="2057"/></g><g id="n1281_102"><circle cy="2077.3"/></g><g id="n1281_103"><circle cy="2097.5"/></g><g id="n1281_104"><circle cy="2117.8"/></g><g id="n1281_105"><circle cy="2138.1"/></g><g id="n1281_106"><circle cy="2158.3"/></g><g id="n1281_107"><circle cy="2178.6"/></g><g id="n1281_108"><circle cy="2198.9"/></g><g id="n1281_109"><circle cy="2219.1"/></g><g id="n1281_110"><circle cy="2239.4"/></g><g id="n1281_111"><circle cy="2259.7"/></g><g id="n1281_112"><circle cy="2279.9"/></g><g id="n1281_113"><circle cy="2300.2"/></g><g id="n1281_114"><circle cy="2320.5"/></g>
<g id="n1281_117"><circle cy="2381.3"/></g><g id="n1281_118"><circle cy="2401.6"/></g><g id="n1281_119"><circle cy="2421.8"/></g><g id="n1281_120"><circle cy="2442.1"/></g>
</g>
<g transform="translate(1374,0)">
<g id="n1374_89"><circle cy="1813.8"/></g><g id="n1374_90"><circle cy="1834.1"/></g><g id="n1374_91"><circle cy="1854.3"/></g><g id="n1374_92"><circle cy="1874.6"/></g>
<g id="n1374_107"><circle cy="2178.6"/></g><g id="n1374_108"><circle cy="2198.9"/></g><g id="n1374_109"><circle cy="2219.1"/></g><g id="n1374_110"><circle cy="2239.4"/></g><g id="n1374_111"><circle cy="2259.7"/></g><g id="n1374_112"><circle cy="2279.9"/></g><g id="n1374_113"><circle cy="2300.2"/></g><g id="n1374_114"><circle cy="2320.5"/></g><g id="n1374_115"><circle cy="2340.8"/></g><g id="n1374_116"><circle cy="2361"/></g><g id="n1374_117"><circle cy="2381.3"/></g><g id="n1374_118"><circle cy="2401.6"/></g><g id="n1374_119"><circle cy="2421.8"/></g><g id="n1374_120"><circle cy="2442.1"/></g><g id="n1374_121"><circle cy="2462.4"/></g><g id="n1374_122"><circle cy="2482.6"/></g>
</g>
<g transform="translate(1468,0)">
<g id="n1468_91"><circle cy="1854.3"/></g><g id="n1468_92"><circle cy="1874.6"/></g><g id="n1468_93"><circle cy="1894.9"/></g><g id="n1468_94"><circle cy="1915.1"/></g>
</g>
<g transform="translate(877,0)">
<g id="n877_129"><circle cy="2624.5"/></g><g id="n877_130"><circle cy="2644.8"/></g><g id="n877_135"><circle cy="2746.1"/></g><g id="n877_136"><circle cy="2766.4"/></g><g id="n877_137"><circle cy="2786.6"/></g>
</g>
<g transform="translate(970,0)">
<g id="n970_129"><circle cy="2624.5"/></g><g id="n970_130"><circle cy="2644.8"/></g><g id="n970_131"><circle cy="2665"/></g><g id="n970_132"><circle cy="2685.3"/></g><g id="n970_133"><circle cy="2705.6"/></g><g id="n970_134"><circle cy="2725.8"/></g><g id="n970_135"><circle cy="2746.1"/></g><g id="n970_136"><circle cy="2766.4"/></g>
</g>
<g transform="translate(847,0)">
<g id="n847_138"><circle cy="2806.9"/></g><g id="n847_139"><circle cy="2827.2"/></g><g id="n847_140"><circle cy="2847.4"/></g><g id="n847_141"><circle cy="2867.7"/></g><g id="n847_142"><circle cy="2888"/></g><g id="n847_143"><circle cy="2908.2"/></g><g id="n847_144"><circle cy="2928.5"/></g><g id="n847_145"><circle cy="2948.8"/></g><g id="n847_146"><circle cy="2969"/></g>
</g>
<g transform="translate(754,0)">
<g id="n754_139"><circle cy="2827.2"/></g><g id="n754_140"><circle cy="2847.4"/></g><g id="n754_141"><circle cy="2867.7"/></g><g id="n754_142"><circle cy="2888"/></g><g id="n754_143"><circle cy="2908.2"/></g><g id="n754_144"><circle cy="2928.5"/></g><g id="n754_145"><circle cy="2948.8"/></g><g id="n754_146"><circle cy="2969"/></g><g id="n754_147"><circle cy="2989.3"/></g><g id="n754_148"><circle cy="3009.6"/></g><g id="n754_149"><circle cy="3029.8"/></g><g id="n754_150"><circle cy="3050.1"/></g>
</g>
<g transform="translate(940,0)">
<g id="n940_141"><circle cy="2867.7"/></g><g id="n940_142"><circle cy="2888"/></g><g id="n940_143"><circle cy="2908.2"/></g><g id="n940_144"><circle cy="2928.5"/></g>
</g>
<g transform="translate(660,0)">
<g id="n660_143"><circle cy="2908.2"/></g><g id="n660_144"><circle cy="2928.5"/></g><g id="n660_145"><circle cy="2948.8"/></g><g id="n660_146"><circle cy="2969"/></g><g id="n660_147"><circle cy="2989.3"/></g><g id="n660_148"><circle cy="3009.6"/></g>
</g>
<g transform="translate(1015,0)"><g id="n1015_137"><circle cy="2786.6"/></g></g>
<g transform="translate(1027,0)"><g id="n1027_138"><circle cy="2806.9"/></g></g>
<g transform="translate(1034,0)">
<g id="n1034_139"><circle cy="2827.2"/></g><g id="n1034_141"><circle cy="2867.7"/></g><g id="n1034_142"><circle cy="2888"/></g><g id="n1034_143"><circle cy="2908.2"/></g><g id="n1034_144"><circle cy="2928.5"/></g>
</g>
<g transform="translate(1098,0)"><g id="n1098_140"><circle cy="2847.4"/></g></g>
<g transform="translate(1128,0)">
<g id="n1128_141"><circle cy="2867.7"/></g><g id="n1128_142"><circle cy="2888"/></g><g id="n1128_143"><circle cy="2908.2"/></g><g id="n1128_144"><circle cy="2928.5"/></g>
</g>
<g transform="translate(1221,0)">
<g id="n1221_141"><circle cy="2867.7"/></g><g id="n1221_142"><circle cy="2888"/></g><g id="n1221_143"><circle cy="2908.2"/></g><g id="n1221_144"><circle cy="2928.5"/></g><g id="n1221_145"><circle cy="2948.8"/></g><g id="n1221_146"><circle cy="2969"/></g>
</g>
<g transform="translate(1173,0)">
<g id="n1173_147"><circle cy="2989.3"/></g><g id="n1173_148"><circle cy="3009.6"/></g><g id="n1173_149"><circle cy="3029.8"/></g><g id="n1173_150"><circle cy="3050.1"/></g>
<g id="n1173_153"><circle cy="3110.9"/></g><g id="n1173_154"><circle cy="3131.2"/></g><g id="n1173_155"><circle cy="3151.4"/></g><g id="n1173_156"><circle cy="3171.7"/></g><g id="n1173_157"><circle cy="3192"/></g><g id="n1173_158"><circle cy="3212.2"/></g><g id="n1173_159"><circle cy="3232.5"/></g><g id="n1173_160"><circle cy="3252.8"/></g><g id="n1173_161"><circle cy="3273.1"/></g><g id="n1173_162"><circle cy="3293.3"/></g><g id="n1173_163"><circle cy="3313.6"/></g><g id="n1173_164"><circle cy="3333.9"/></g><g id="n1173_165"><circle cy="3354.1"/></g><g id="n1173_166"><circle cy="3374.4"/></g><g id="n1173_167"><circle cy="3394.7"/></g><g id="n1173_168"><circle cy="3414.9"/></g><g id="n1173_169"><circle cy="3435.2"/></g><g id="n1173_170"><circle cy="3455.5"/></g><g id="n1173_171"><circle cy="3475.7"/></g><g id="n1173_172"><circle cy="3496"/></g>
</g>
<g transform="translate(1078,0)">
<g id="n1078_149"><circle cy="3029.8"/></g><g id="n1078_150"><circle cy="3050.1"/></g><g id="n1078_151"><circle cy="3070.4"/></g><g id="n1078_152"><circle cy="3090.6"/></g><g id="n1078_153"><circle cy="3110.9"/></g><g id="n1078_154"><circle cy="3131.2"/></g><g id="n1078_155"><circle cy="3151.4"/></g><g id="n1078_156"><circle cy="3171.7"/></g><g id="n1078_157"><circle cy="3192"/></g><g id="n1078_158"><circle cy="3212.2"/></g><g id="n1078_159"><circle cy="3232.5"/></g><g id="n1078_160"><circle cy="3252.8"/></g><g id="n1078_161"><circle cy="3273.1"/></g><g id="n1078_162"><circle cy="3293.3"/></g><g id="n1078_163"><circle cy="3313.6"/></g><g id="n1078_164"><circle cy="3333.9"/></g><g id="n1078_165"><circle cy="3354.1"/></g><g id="n1078_166"><circle cy="3374.4"/></g><g id="n1078_167"><circle cy="3394.7"/></g><g id="n1078_168"><circle cy="3414.9"/></g><g id="n1078_169"><circle cy="3435.2"/></g><g id="n1078_170"><circle cy="3455.5"/></g>
</g>
<g transform="translate(985,0)">
<g id="n985_151"><circle cy="3070.4"/></g><g id="n985_152"><circle cy="3090.6"/></g><g id="n985_153"><circle cy="3110.9"/></g><g id="n985_154"><circle cy="3131.2"/></g>
<g id="n985_159"><circle cy="3232.5"/></g><g id="n985_160"><circle cy="3252.8"/></g><g id="n985_161"><circle cy="3273.1"/></g><g id="n985_162"><circle cy="3293.3"/></g>
<g id="n985_167"><circle cy="3394.7"/></g><g id="n985_168"><circle cy="3414.9"/></g>
</g>
<g transform="translate(1266,0)">
<g id="n1266_147"><circle cy="2989.3"/></g><g id="n1266_148"><circle cy="3009.6"/></g><g id="n1266_149"><circle cy="3029.8"/></g><g id="n1266_150"><circle cy="3050.1"/></g><g id="n1266_151"><circle cy="3070.4"/></g><g id="n1266_152"><circle cy="3090.6"/></g><g id="n1266_153"><circle cy="3110.9"/></g><g id="n1266_154"><circle cy="3131.2"/></g><g id="n1266_155"><circle cy="3151.4"/></g><g id="n1266_156"><circle cy="3171.7"/></g>
</g>
<g transform="translate(1359,0)">
<g id="n1359_153"><circle cy="3110.9"/></g><g id="n1359_154"><circle cy="3131.2"/></g><g id="n1359_155"><circle cy="3151.4"/></g><g id="n1359_156"><circle cy="3171.7"/></g><g id="n1359_157"><circle cy="3192"/></g><g id="n1359_158"><circle cy="3212.2"/></g><g id="n1359_159"><circle cy="3232.5"/></g><g id="n1359_160"><circle cy="3252.8"/></g><g id="n1359_161"><circle cy="3273.1"/></g><g id="n1359_162"><circle cy="3293.3"/></g>
</g>
<g transform="translate(1311,0)">
<g id="n1311_123"><circle cy="2502.9"/></g><g id="n1311_124"><circle cy="2523.2"/></g><g id="n1311_125"><circle cy="2543.4"/></g><g id="n1311_126"><circle cy="2563.7"/></g>
</g>
<g transform="translate(1217,0)">
<g id="n1217_125"><circle cy="2543.4"/></g><g id="n1217_126"><circle cy="2563.7"/></g><g id="n1217_127"><circle cy="2584"/></g><g id="n1217_128"><circle cy="2604.2"/></g><g id="n1217_129"><circle cy="2624.5"/></g><g id="n1217_130"><circle cy="2644.8"/></g><g id="n1217_131"><circle cy="2665"/></g><g id="n1217_132"><circle cy="2685.3"/></g><g id="n1217_133"><circle cy="2705.6"/></g><g id="n1217_134"><circle cy="2725.8"/></g>
</g>
<g transform="translate(1195,0)">
<g id="n1195_135"><circle cy="2746.1"/></g><g id="n1195_136"><circle cy="2766.4"/></g><g id="n1195_137"><circle cy="2786.6"/></g><g id="n1195_138"><circle cy="2806.9"/></g><g id="n1195_139"><circle cy="2827.2"/></g><g id="n1195_140"><circle cy="2847.4"/></g>
</g>
<g transform="translate(1288,0)"><g id="n1288_135"><circle cy="2746.1"/></g><g id="n1288_136"><circle cy="2766.4"/></g></g>
<g transform="translate(1404,0)">
<g id="n1404_123"><circle cy="2502.9"/></g><g id="n1404_124"><circle cy="2523.2"/></g><g id="n1404_125"><circle cy="2543.4"/></g><g id="n1404_126"><circle cy="2563.7"/></g><g id="n1404_127"><circle cy="2584"/></g><g id="n1404_128"><circle cy="2604.2"/></g>
</g>
<g transform="translate(1498,0)">
<g id="n1498_125"><circle cy="2543.4"/></g><g id="n1498_126"><circle cy="2563.7"/></g><g id="n1498_127"><circle cy="2584"/></g><g id="n1498_128"><circle cy="2604.2"/></g>
</g>
<g transform="translate(1355,0)"><g id="n1355_129"><circle cy="2624.5"/></g><g id="n1355_130"><circle cy="2644.8"/></g></g>
<g transform="translate(1448,0)"><g id="n1448_129"><circle cy="2624.5"/></g><g id="n1448_130"><circle cy="2644.8"/></g></g>
<g transform="translate(1400,0)"><g id="n1400_131"><circle cy="2665"/></g><g id="n1400_132"><circle cy="2685.3"/></g></g>
<g transform="translate(1493,0)"><g id="n1493_131"><circle cy="2665"/></g><g id="n1493_132"><circle cy="2685.3"/></g></g>
<g transform="translate(1445,0)"><g id="n1445_133"><circle cy="2705.6"/></g><g id="n1445_134"><circle cy="2725.8"/></g></g>
<g transform="translate(1540,0)">
<g id="n1540_133"><circle cy="2705.6"/></g><g id="n1540_134"><circle cy="2725.8"/></g><g id="n1540_135"><circle cy="2746.1"/></g><g id="n1540_136"><circle cy="2766.4"/></g>
</g>
</g>
</svg>
